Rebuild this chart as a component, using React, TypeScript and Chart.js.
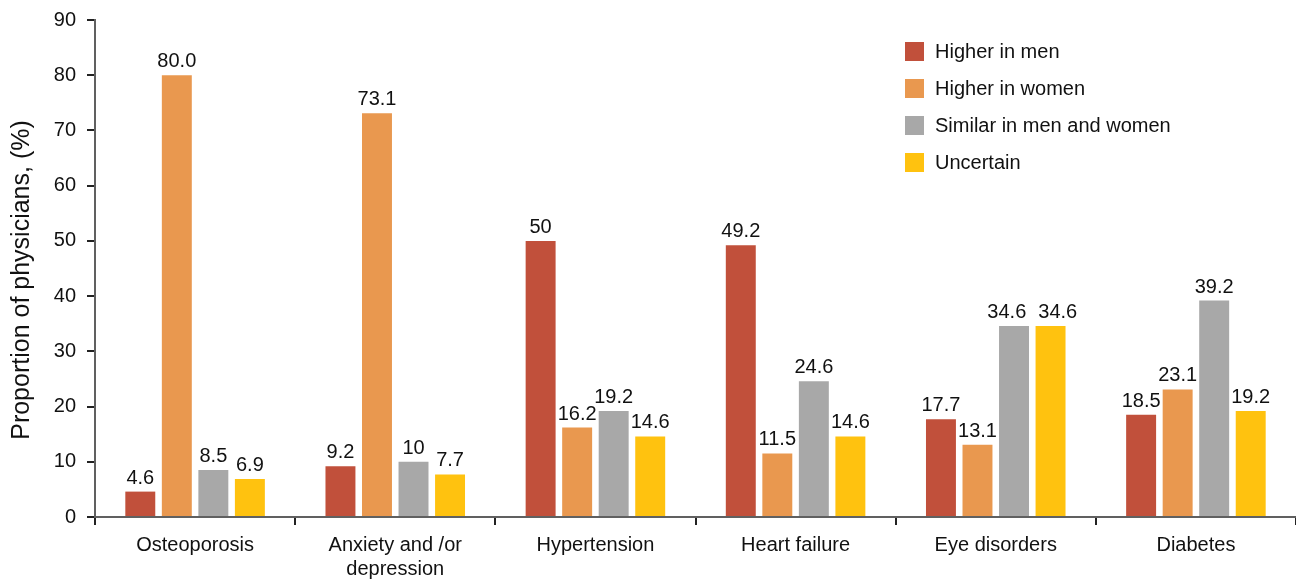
import React, { useEffect, useRef } from "react";
import { Chart, registerables } from "chart.js";

Chart.register(...registerables);

const categories: (string | string[])[] = [
  "Osteoporosis",
  ["Anxiety and /or", "depression"],
  "Hypertension",
  "Heart failure",
  "Eye disorders",
  "Diabetes",
];

const seriesNames = ["Higher in men", "Higher in women", "Similar in men and women", "Uncertain"];
const seriesColors = ["#C1503B", "#E9984F", "#A8A8A8", "#FFC20F"];

const higherInMen = [4.6, 9.2, 50, 49.2, 17.7, 18.5];
const higherInWomen = [80.0, 73.1, 16.2, 11.5, 13.1, 23.1];
const similar = [8.5, 10, 19.2, 24.6, 34.6, 39.2];
const uncertain = [6.9, 7.7, 14.6, 14.6, 34.6, 19.2];

const higherInMenLabels = ["4.6", "9.2", "50", "49.2", "17.7", "18.5"];
const higherInWomenLabels = ["80.0", "73.1", "16.2", "11.5", "13.1", "23.1"];
const similarLabels = ["8.5", "10", "19.2", "24.6", "34.6", "39.2"];
const uncertainLabels = ["6.9", "7.7", "14.6", "14.6", "34.6", "19.2"];

const yTicks = [0, 10, 20, 30, 40, 50, 60, 70, 80, 90];
const yTitle = "Proportion of physicians, (%)";

const FONT = "'Liberation Sans', Arial, Helvetica, sans-serif";

export default function App() {
  const ref = useRef<HTMLCanvasElement | null>(null);

  useEffect(() => {
    if (!ref.current) return;
    const allValues = [higherInMen, higherInWomen, similar, uncertain];
    const allLabels = [higherInMenLabels, higherInWomenLabels, similarLabels, uncertainLabels];

    const valueLabels = {
      id: "valueLabels",
      afterDatasetsDraw(chart: any) {
        const ctx = chart.ctx;
        ctx.save();
        ctx.font = `20px ${FONT}`;
        ctx.fillStyle = "#111";
        ctx.textAlign = "center";
        ctx.textBaseline = "alphabetic";
        const n = chart.data.labels.length;
        const nd = chart.data.datasets.length;
        for (let i = 0; i < n; i++) {
          const items: { x: number; y: number; w: number; t: string }[] = [];
          for (let di = 0; di < nd; di++) {
            const el = chart.getDatasetMeta(di).data[i];
            const t = allLabels[di][i];
            items.push({ x: el.x, y: el.y - 8, w: ctx.measureText(t).width, t });
          }
          // push apart neighbouring labels that sit at nearly the same height
          for (let k = 0; k < items.length - 1; k++) {
            const a = items[k];
            const b = items[k + 1];
            if (Math.abs(a.y - b.y) < 6) {
              const gap = b.x - b.w / 2 - (a.x + a.w / 2);
              const need = 12;
              if (gap < need) {
                const shift = (need - gap) / 2;
                a.x -= shift;
                b.x += shift;
              }
            }
          }
          items.forEach((it) => ctx.fillText(it.t, it.x, it.y));
        }
        ctx.restore();
      },
    };

    const customLegend = {
      id: "customLegend",
      afterDraw(chart: any) {
        const ctx = chart.ctx;
        ctx.save();
        ctx.font = `20px ${FONT}`;
        ctx.textBaseline = "middle";
        ctx.textAlign = "left";
        const x0 = 905;
        const y0 = 42;
        const step = 37;
        seriesNames.forEach((name, i) => {
          ctx.fillStyle = seriesColors[i];
          ctx.fillRect(x0, y0 + i * step, 19, 19);
          ctx.fillStyle = "#111";
          ctx.fillText(name, x0 + 30, y0 + i * step + 10);
        });
        // y axis title
        ctx.save();
        ctx.font = `25px ${FONT}`;
        ctx.textAlign = "center";
        ctx.textBaseline = "middle";
        ctx.translate(22, 280);
        ctx.rotate(-Math.PI / 2);
        ctx.fillText(yTitle, 0, 0);
        ctx.restore();
        ctx.restore();
      },
    };

    const chart = new Chart(ref.current, {
      type: "bar",
      data: {
        labels: categories,
        datasets: seriesNames.map((name, i) => ({
          label: name,
          data: allValues[i],
          backgroundColor: seriesColors[i],
          borderWidth: 0,
          categoryPercentage: 0.73,
          barPercentage: 0.82,
        })),
      },
      options: {
        responsive: false,
        animation: false,
        devicePixelRatio: 1,
        layout: { padding: { top: 20, right: 0, left: 0, bottom: 0 } },
        plugins: {
          legend: { display: false },
          tooltip: { enabled: false },
          title: { display: false },
        },
        scales: {
          x: {
            afterFit(scale: any) {
              scale.height = 63;
              scale.paddingLeft = 0;
              scale.paddingRight = 0;
            },
            grid: {
              display: true,
              drawOnChartArea: false,
              drawTicks: true,
              tickLength: 8,
              offset: true,
              color: "#222",
              lineWidth: 2,
            },
            border: { display: true, color: "#606060", width: 2 },
            ticks: {
              color: "#111",
              font: { family: FONT, size: 20, lineHeight: 1.2 },
              padding: 8,
              maxRotation: 0,
              autoSkip: false,
            },
          },
          y: {
            min: 0,
            max: 90,
            afterFit(scale: any) {
              scale.width = 95;
              scale.paddingTop = 0;
              scale.paddingBottom = 0;
            },
            afterBuildTicks(scale: any) {
              scale.ticks = yTicks.map((v) => ({ value: v }));
            },
            grid: {
              display: true,
              drawOnChartArea: false,
              drawTicks: true,
              tickLength: 8,
              color: "#222",
              lineWidth: 2,
            },
            border: { display: true, color: "#606060", width: 2 },
            ticks: {
              color: "#111",
              font: { family: FONT, size: 20 },
              padding: 11,
            },
            title: { display: false },
          },
        },
      },
      plugins: [valueLabels, customLegend],
    });
    return () => chart.destroy();
  }, []);

  return (
    <div style={{ position: "absolute", left: 0, top: 0, width: 1296, height: 580, background: "#fff" }}>
      <canvas ref={ref} width={1296} height={580} style={{ display: "block", width: 1296, height: 580 }} />
    </div>
  );
}
